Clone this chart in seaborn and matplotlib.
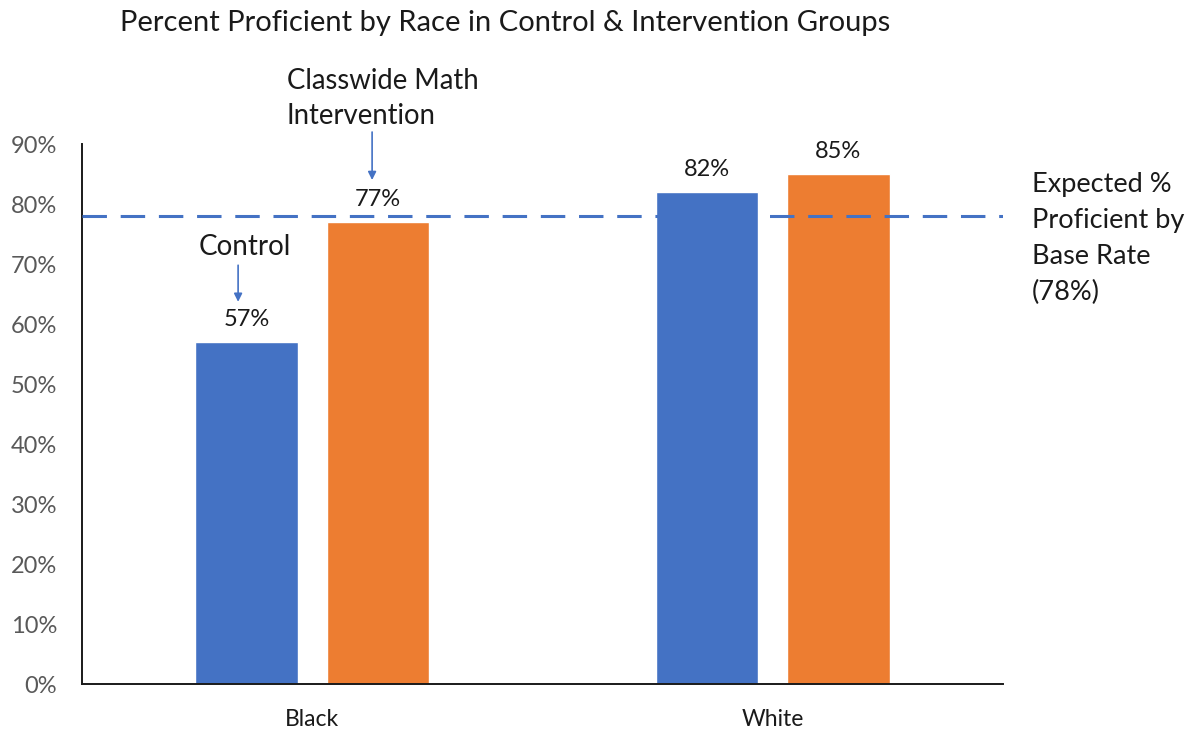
import matplotlib
matplotlib.use("Agg")
import matplotlib.pyplot as plt
import seaborn as sns
import pandas as pd

# Chart data
races = ["Black", "White"]
groups = ["Control", "Classwide Math Intervention"]
control_pct = [57, 82]
intervention_pct = [77, 85]
base_rate_pct = 78
y_ticks = [0, 10, 20, 30, 40, 50, 60, 70, 80, 90]

BLUE = "#4472C4"
ORANGE = "#ED7D31"

df = pd.DataFrame({
    "race": races * 2,
    "group": [groups[0]] * 2 + [groups[1]] * 2,
    "pct": control_pct + intervention_pct,
})

sns.set_theme(style="white")
plt.rcParams["font.family"] = ["Lato", "DejaVu Sans"]

fig = plt.figure(figsize=(11.92, 7.30), dpi=100)
ax = fig.add_axes([0.0688, 0.063, 0.7726, 0.7397])

sns.barplot(data=df, x="race", y="pct", hue="group", order=races,
            hue_order=groups, palette=[BLUE, ORANGE], width=0.57, gap=0.22,
            legend=False, ax=ax, saturation=1)

ax.set_ylim(0, 90)
ax.set_xlim(-0.5, 1.5)
ax.set_yticks(y_ticks)
ax.set_yticklabels([f"{v}%" for v in y_ticks], color="#595959", fontsize=17)
ax.tick_params(axis="y", length=0, pad=18)
ax.tick_params(axis="x", length=0, pad=18, labelsize=16.5, labelcolor="#1a1a1a")
ax.set_xlabel("")
ax.set_ylabel("")

for side in ["top", "right"]:
    ax.spines[side].set_visible(False)
for side in ["left", "bottom"]:
    ax.spines[side].set_color("#1a1a1a")
    ax.spines[side].set_linewidth(1.4)

for cont in ax.containers:
    ax.bar_label(cont, labels=[f"{v:.0f}%" for v in cont.datavalues],
                 padding=9, fontsize=17, color="#1a1a1a")

# Expected base-rate reference line
ax.axhline(base_rate_pct, color=BLUE, lw=2.2, dashes=(8, 4.5), zorder=3)
ax.text(1.563, 74.25, f"Expected %\nProficient by\nBase Rate\n({base_rate_pct}%)",
        ha="left", va="center", fontsize=19.5, color="#1a1a1a",
        linespacing=1.56, clip_on=False)

# Callouts for the two groups
arrow = dict(arrowstyle="-|>", color=BLUE, lw=1.2, mutation_scale=12,
             shrinkA=0, shrinkB=0)
ax.annotate("", xy=(-0.161, 63.7), xytext=(-0.161, 69.8), arrowprops=arrow,
            annotation_clip=False)
ax.text(-0.146, 72.8, "Control", ha="center", va="center", fontsize=20,
        color="#1a1a1a")
ax.annotate("", xy=(0.13, 84.0), xytext=(0.13, 92.0), arrowprops=arrow,
            annotation_clip=False)
ax.text(-0.055, 97.6, "Classwide Math\nIntervention", ha="left", va="center",
        fontsize=19.8, color="#1a1a1a", linespacing=1.46, clip_on=False)

fig.text(0.424, 0.969, "Percent Proficient by Race in Control & Intervention Groups",
         ha="center", va="center", fontsize=21, color="#1a1a1a")

fig.savefig("out.png", dpi=100, facecolor="white")
